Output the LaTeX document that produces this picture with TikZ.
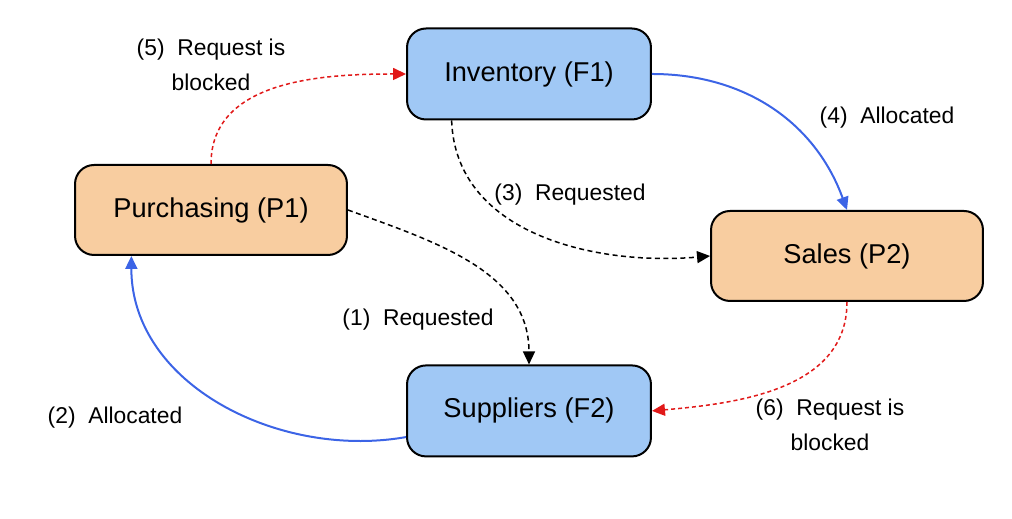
\documentclass[tikz,border=0pt]{standalone}
\usepackage{fontspec}
\setmainfont{Liberation Sans}
\usetikzlibrary{arrows.meta, positioning}
\definecolor{flowblue}{RGB}{160,200,245}
\definecolor{proctan}{RGB}{248,205,160}
\definecolor{lineblue}{RGB}{60,100,230}
\definecolor{linered}{RGB}{225,25,25}
\tikzstyle{reqarrow}=[-{Triangle[length=2.6mm,width=2.4mm]}, line width=0.3mm, color=black, dash pattern=on 1mm off 0.7mm]
\tikzstyle{allocarrow}=[-{Triangle[length=2.6mm,width=2.4mm]}, line width=0.4mm, color=lineblue]
\tikzstyle{blockarrow}=[-{Triangle[length=2.6mm,width=2.4mm]}, line width=0.3mm, color=linered, dash pattern=on 0.8mm off 0.6mm]

\begin{document}
\begin{tikzpicture}[x=0.02cm, y=0.02cm,
  resbox/.style={rectangle, draw=black, line width=0.4mm, fill=flowblue,
                 minimum width=4.88cm, minimum height=1.82cm,
                 rounded corners=0.38cm, font=\fontsize{15.5}{18}\selectfont},
  procbox/.style={rectangle, draw=black, line width=0.4mm, fill=proctan,
                 minimum width=5.44cm, minimum height=1.8cm,
                 rounded corners=0.38cm, font=\fontsize{15.5}{18}\selectfont},
  steplbl/.style={align=center, inner sep=0pt, font=\fontsize{13}{20}\selectfont}
]
\useasboundingbox (0,0) rectangle (1012,519);

\node[resbox]  (inv) at (529,445) {Inventory (F1)};
\node[resbox, below=4.88cm of inv] (sup) {Suppliers (F2)};
\node[procbox] (pur) at (211,309) {Purchasing (P1)};
\node[procbox] (sal) at (847,263) {Sales (P2)};

\node[steplbl] (lbl1) at (418,199) {(1)\ \ Requested};
\node[steplbl] (lbl2) at (115,101) {(2)\ \ Allocated};
\node[steplbl] (lbl3) at (570,324) {(3)\ \ Requested};
\node[steplbl] (lbl4) at (887,401) {(4)\ \ Allocated};
\node[steplbl] (lbl5) at (211,454) {(5)\ \ Request is\\blocked};
\node[steplbl] (lbl6) at (830,94)  {(6)\ \ Request is\\blocked};

\draw[reqarrow]   (pur.east)  to[out=-20, in=90] (sup.north);
\draw[allocarrow] (sup.192)   to[out=190, in=-90] (pur.210);
\draw[reqarrow]   (inv.211)   to[out=-88, in=185] (sal.west);
\draw[allocarrow] (inv.east)  to[out=0, in=110] (sal.north);
\draw[blockarrow] (pur.north) to[out=90, in=180] (inv.west);
\draw[blockarrow] (sal.south) to[out=-90, in=5] (sup.east);
\end{tikzpicture}
\end{document}
